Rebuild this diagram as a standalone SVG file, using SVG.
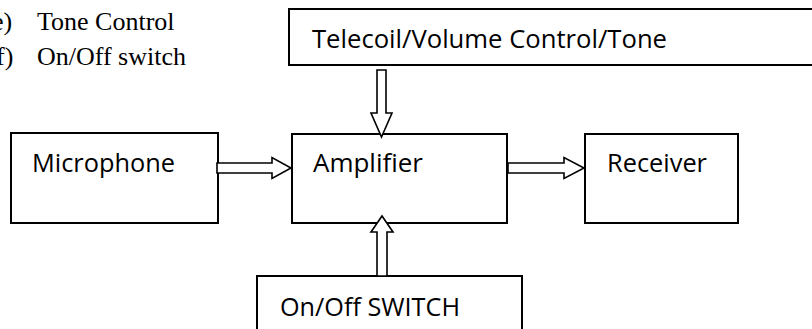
<svg xmlns="http://www.w3.org/2000/svg" width="812" height="329" viewBox="0 0 812 329">
<style>
.box{fill:#fff;stroke:#000;stroke-width:2}
.lbl{font-family:"Open Sans","Noto Sans","Liberation Sans",sans-serif;font-size:26px;fill:#000}
.ser{font-family:"Liberation Serif","Times New Roman",serif;font-size:26px;fill:#000}
.arr{fill:#fff;stroke:#000;stroke-width:1.6;stroke-linejoin:miter}
</style>
<rect width="812" height="329" fill="#fff"/>
<g id="list">
<text class="ser" x="-8" y="30">e)</text>
<text class="ser" x="37" y="30">Tone Control</text>
<text class="ser" x="-4" y="65">f)</text>
<text class="ser" x="37" y="65">On/Off switch</text>
</g>
<g id="telecoil">
<rect class="box" x="289" y="9" width="540" height="56"/>
<text class="lbl" x="312" y="48" textLength="355" lengthAdjust="spacingAndGlyphs">Telecoil/Volume Control/Tone</text>
</g>
<g id="microphone">
<rect class="box" x="11" y="133" width="207" height="90"/>
<text class="lbl" x="32" y="172" textLength="143" lengthAdjust="spacingAndGlyphs">Microphone</text>
</g>
<g id="amplifier">
<rect class="box" x="292" y="134" width="215" height="89"/>
<text class="lbl" x="313" y="172" textLength="110" lengthAdjust="spacingAndGlyphs">Amplifier</text>
</g>
<g id="receiver">
<rect class="box" x="585" y="134" width="153" height="89"/>
<text class="lbl" x="607" y="172" textLength="100" lengthAdjust="spacingAndGlyphs">Receiver</text>
</g>
<g id="onoff">
<rect class="box" x="257" y="276" width="265" height="70"/>
<text class="lbl" x="280" y="316" textLength="180" lengthAdjust="spacingAndGlyphs">On/Off SWITCH</text>
</g>
<g id="connectors">
<path class="arr" d="M217,163 L272,163 L272,157.5 L291,168 L272,178.5 L272,173 L217,173 Z"/>
<path class="arr" d="M508,163 L564,163 L564,157.5 L584,168 L564,178.5 L564,173 L508,173 Z"/>
<path class="arr" d="M377,70 L386,70 L386,113 L392,113 L381.5,137 L371,113 L377,113 Z"/>
<path class="arr" d="M377,276 L387,276 L387,232 L393,232 L382,216 L371,232 L377,232 Z"/>
</g>
</svg>
